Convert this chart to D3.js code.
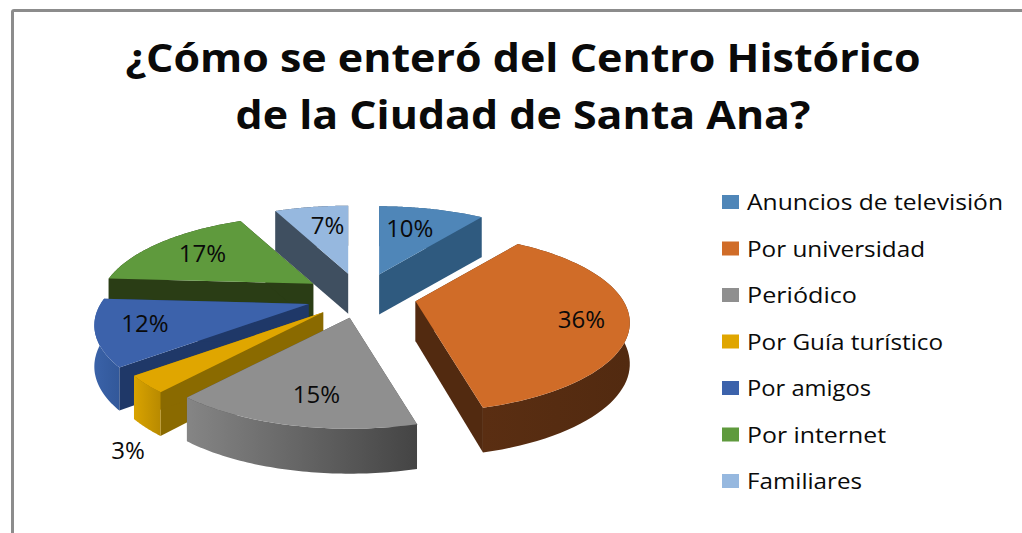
<!DOCTYPE html>
<html lang="es">
<head>
<meta charset="utf-8">
<title>Centro Histórico</title>
<script src="https://cdn.jsdelivr.net/npm/d3@7"></script>
<style>
  html, body { margin: 0; padding: 0; background: #fff; overflow: hidden; }
  svg { display: block; }
  text { font-family: "Open Sans", sans-serif; fill: #0a0a0a; }
</style>
</head>
<body>
<svg id="chart" width="1022" height="533"></svg>
<script>
// datos
const categories = ["Anuncios de televisión", "Por universidad", "Periódico", "Por Guía turístico", "Por amigos", "Por internet", "Familiares"];
const values = [10, 36, 15, 3, 12, 17, 7];
const titleLines = ["¿Cómo se enteró del Centro Histórico", "de la Ciudad de Santa Ana?"];

// colores: cara superior, pared radial, pared exterior (izq -> der)
const topColors = ["#4f86b8", "#d06c28", "#8f8f8f", "#e0a600", "#3c62ab", "#5f9a3d", "#96b8df"];
const wallColors = ["#2f5a7f", "#522a10", "#4a4a4a", "#8a6a00", "#1f3868", "#2a3d15", "#3f4f60"];
const rimLeft = ["#2f5a7f", "#5a2e12", "#858585", "#d9a300", "#3a62a8", "#2a3d15", "#3f4f60"];
const rimRight = ["#2f5a7f", "#522a10", "#444444", "#b88a00", "#32589a", "#2a3d15", "#3f4f60"];

// anchos de texto medidos en la imagen
const titleWidths = [795, 575];
const legendWidths = [256, 178, 110, 196, 124, 139, 115];

const svg = d3.select("#chart");
const defs = svg.append("defs");

// marco gris
svg.append("path")
    .attr("d", "M12.5,533V12Q12.5,10.5 14,10.5H1022")
    .attr("fill", "none")
    .attr("stroke", "#8c8c8c")
    .attr("stroke-width", 3);

// titulo
svg.selectAll(".title")
    .data(titleLines)
    .enter().append("text")
    .attr("class", "title")
    .attr("x", 523)
    .attr("y", (d, i) => 72 + i * 57)
    .attr("text-anchor", "middle")
    .attr("font-size", 40)
    .attr("font-weight", 700)
    .attr("textLength", (d, i) => titleWidths[i])
    .attr("lengthAdjust", "spacingAndGlyphs")
    .text(d => d);

// proyeccion en perspectiva del plano de la torta
const cx = 361, cy = 297, rx = 208, ry = 84.4, persp = 0.24;
function project(angle, r) {
    const s = 1 / (1 + persp * Math.cos(angle));
    return [r * rx * Math.sin(angle) * s, -r * ry * Math.cos(angle) * s];
}
function drop(angle, r) {
    return 40 + Math.max(0, -Math.cos(angle)) * 5 * r;
}

const arcs = d3.pie().sort(null).value(d => d)(values).map((d, i) => {
    const mid = (d.startAngle + d.endAngle) / 2;
    const explode = 0.27 + 0.08 * Math.cos(mid);
    const p = project(mid, explode);
    return { index: i, value: d.value, start: d.startAngle, end: d.endAngle, mid: mid, ax: cx + p[0], ay: cy + p[1] };
});

const line = d3.line();
function topPoint(d, angle, r) {
    const p = project(angle, r);
    return [d.ax + p[0], d.ay + p[1]];
}
function lowPoint(d, angle, r) {
    const p = topPoint(d, angle, r);
    return [p[0], p[1] + drop(angle, r)];
}
function rimAngles(d) {
    return d3.range(0, 61).map(k => d.start + (d.end - d.start) * k / 60);
}
// centro de la etiqueta: dentro de la porcion, o debajo del borde si es muy chica
function labelPoint(d) {
    if (d.value < 5) {
        const low = lowPoint(d, d.mid, 1);
        return [low[0] - 18, low[1] + 23];
    }
    const p = project(d.mid, 1);
    const side = Math.sin(d.mid);
    return [d.ax + p[0] * (0.5 + 0.28 * Math.abs(side)), d.ay + p[1] * 0.72 + Math.max(0, side) * 7];
}

// las porciones de atras se pintan primero
const slices = svg.selectAll(".slice")
    .data(arcs.slice().sort((a, b) => a.ay - b.ay))
    .enter().append("g")
    .attr("class", "slice");

slices.each(function (d) {
    const g = d3.select(this);
    const grad = defs.append("linearGradient").attr("id", "rim" + d.index);
    grad.append("stop").attr("offset", 0).attr("stop-color", rimLeft[d.index]);
    grad.append("stop").attr("offset", 1).attr("stop-color", rimRight[d.index]);

    // paredes radiales
    [d.start, d.end].forEach(a => {
        g.append("path")
            .attr("fill", wallColors[d.index])
            .attr("d", line([topPoint(d, a, 0), topPoint(d, a, 1), lowPoint(d, a, 1), lowPoint(d, a, 0)]) + "Z");
    });

    // pared exterior
    const angles = rimAngles(d);
    g.append("path")
        .attr("fill", `url(#rim${d.index})`)
        .attr("d", line(angles.map(a => topPoint(d, a, 1)).concat(angles.slice().reverse().map(a => lowPoint(d, a, 1)))) + "Z");

    // cara superior
    g.append("path")
        .attr("fill", topColors[d.index])
        .attr("d", line([topPoint(d, d.start, 0)].concat(angles.map(a => topPoint(d, a, 1)))) + "Z");
});

// etiquetas de porcentaje
svg.selectAll(".pct")
    .data(arcs)
    .enter().append("text")
    .attr("class", "pct")
    .attr("text-anchor", "middle")
    .attr("font-size", 24)
    .attr("x", d => labelPoint(d)[0])
    .attr("y", d => labelPoint(d)[1] + 8)
    .text(d => d.value + "%");

// leyenda
const legendY = d3.scalePoint().domain(categories).range([202, 481]);
const legend = svg.selectAll(".legend")
    .data(categories)
    .enter().append("g")
    .attr("class", "legend")
    .attr("transform", d => `translate(722,${legendY(d)})`);

legend.append("rect")
    .attr("y", -7)
    .attr("width", 17)
    .attr("height", 14)
    .attr("fill", (d, i) => topColors[i]);

legend.append("text")
    .attr("x", 25)
    .attr("y", 8)
    .attr("font-size", 22)
    .attr("textLength", (d, i) => legendWidths[i])
    .attr("lengthAdjust", "spacingAndGlyphs")
    .text(d => d);
</script>
</body>
</html>
